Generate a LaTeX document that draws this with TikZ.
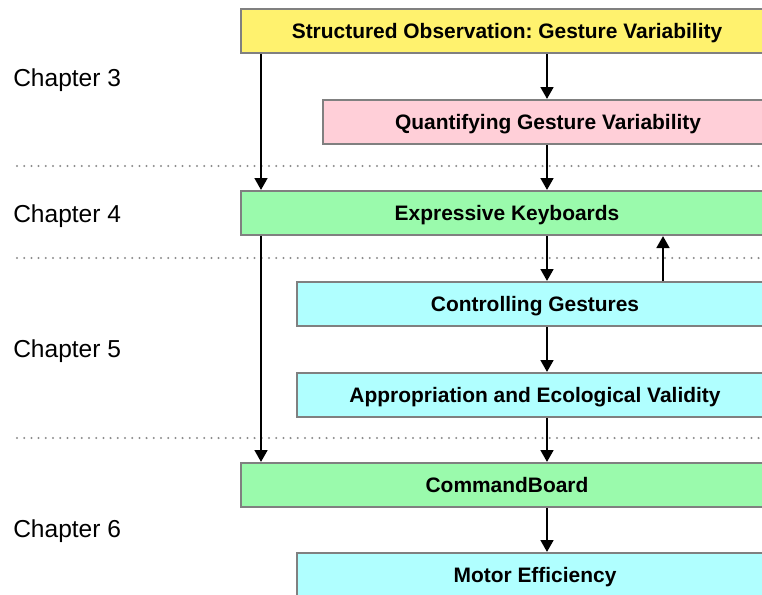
\documentclass[tikz,border=0pt]{standalone}
\usepackage{fontspec}
\setmainfont{Liberation Sans}
\usetikzlibrary{arrows.meta}
\frenchspacing

\definecolor{boxgray}{RGB}{128,128,128}
\definecolor{sepgray}{RGB}{140,140,140}
\definecolor{obsyellow}{RGB}{255,242,110}
\definecolor{quantpink}{RGB}{255,207,216}
\definecolor{keygreen}{RGB}{154,250,172}
\definecolor{gestcyan}{RGB}{176,255,255}

\begin{document}
\begin{tikzpicture}[x=0.75pt,y=-0.75pt,
    stagebox/.style={rectangle, draw=boxgray, line width=1.5pt, inner sep=0pt,
      minimum height=33pt, text height=12pt, text depth=0.6pt,
      font=\fontsize{15.7}{18}\selectfont\bfseries},
    chaplabel/.style={anchor=west, inner sep=0pt, font=\fontsize{18.4}{22}\selectfont},
    flow/.style={line width=2pt, -{Triangle[length=9pt,width=9.5pt]}},
    sep/.style={sepgray, line width=1.7pt, line cap=round, dash pattern=on 0pt off 5.4pt}]
      \clip (0,0) rectangle (762,594);

      % chapter separators
      \draw[sep] (17,166) -- (762,166);
      \draw[sep] (17,258) -- (762,258);
      \draw[sep] (17,438) -- (762,438);

      \node at (13,80)  [chaplabel] (ch3) {Chapter 3};
      \node at (13,216) [chaplabel] (ch4) {Chapter 4};
      \node at (13,351) [chaplabel] (ch5) {Chapter 5};
      \node at (13,531) [chaplabel] (ch6) {Chapter 6};

      \node at (507,31)  [stagebox, fill=obsyellow, minimum width=399pt] (observe) {Structured Observation: Gesture Variability};
      \node at (548,122) [stagebox, fill=quantpink, minimum width=337.5pt] (quantify) {Quantifying Gesture Variability};
      \node at (507,213) [stagebox, fill=keygreen, minimum width=399pt] (express) {Expressive Keyboards};
      \node at (535,304) [stagebox, fill=gestcyan, minimum width=357pt] (control) {Controlling Gestures};
      \node at (535,395) [stagebox, fill=gestcyan, minimum width=357pt] (appropriate) {Appropriation and Ecological Validity};
      \node at (507,485) [stagebox, fill=keygreen, minimum width=399pt] (command) {CommandBoard};
      \node at (535,575) [stagebox, fill=gestcyan, minimum width=357pt] (motor) {Motor Efficiency};

      \coordinate (leftx) at (261,0);
      \coordinate (midx)  at (547,0);
      \coordinate (upx)   at (663,0);

      \draw[flow] (observe.south -| leftx) -- (express.north -| leftx);
      \draw[flow] (express.south -| leftx) -- (command.north -| leftx);

      \draw[flow] (observe.south -| midx)     -- (quantify.north -| midx);
      \draw[flow] (quantify.south -| midx)    -- (express.north -| midx);
      \draw[flow] (express.south -| midx)     -- (control.north -| midx);
      \draw[flow] (control.south -| midx)     -- (appropriate.north -| midx);
      \draw[flow] (appropriate.south -| midx) -- (command.north -| midx);
      \draw[flow] (command.south -| midx)     -- (motor.north -| midx);

      \draw[flow] (control.north -| upx) -- (express.south -| upx);
\end{tikzpicture}
\end{document}
